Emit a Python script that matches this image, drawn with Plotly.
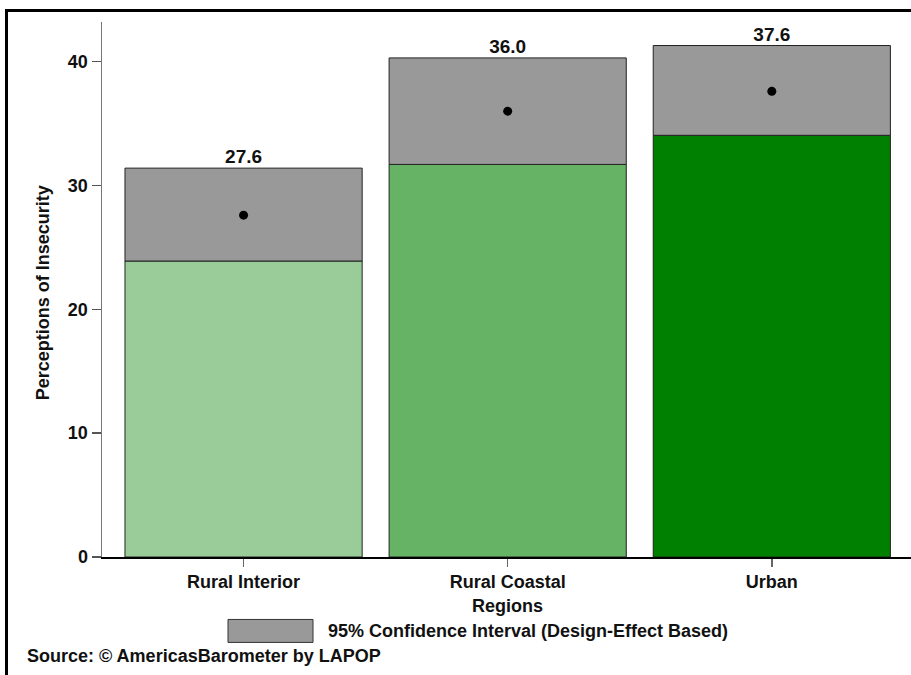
import plotly.graph_objects as go

categories = ["Rural Interior", "Rural Coastal", "Urban"]
means = [27.6, 36.0, 37.6]
ci_lower = [23.9, 31.7, 34.05]
ci_upper = [31.4, 40.3, 41.3]
bar_colors = ["#99CC99", "#66B366", "#008000"]
mean_labels = [f"{m:.1f}" for m in means]
y_ticks = [0, 10, 20, 30, 40]

FONT = "Liberation Sans, Arial, sans-serif"
W, H = 911, 675
L, R, T, B = 102, 0, 22, 117.5
pw = W - L - R
ph = H - T - B

def px(x):
    return (x - L) / pw

def py(y):
    return (H - B - y) / ph

xpos = list(range(len(categories)))

fig = go.Figure()
fig.add_trace(go.Bar(
    x=xpos, y=ci_lower, base=0, width=0.898,
    marker=dict(color=bar_colors, line=dict(color="#222222", width=1)),
    showlegend=False, hoverinfo="skip"))
fig.add_trace(go.Bar(
    x=xpos, y=[u - l for u, l in zip(ci_upper, ci_lower)], base=ci_lower, width=0.898,
    marker=dict(color="#999999", line=dict(color="#222222", width=1)),
    showlegend=False, hoverinfo="skip"))
fig.add_trace(go.Scatter(
    x=xpos, y=means, mode="markers",
    marker=dict(color="black", size=9), showlegend=False, hoverinfo="skip"))
fig.add_trace(go.Scatter(
    x=xpos, y=ci_upper, mode="text", text=mean_labels, textposition="top center",
    textfont=dict(family=FONT, size=19, color="#111111", weight="bold"),
    showlegend=False, hoverinfo="skip"))

fig.update_layout(
    width=W, height=H,
    margin=dict(l=L, r=R, t=T, b=B),
    paper_bgcolor="white", plot_bgcolor="white",
    barmode="overlay",
    font=dict(family=FONT, size=18, color="#111111"),
    xaxis=dict(
        range=[-0.536, 2.527], tickvals=xpos, ticktext=categories,
        showline=True, linecolor="black", linewidth=1.5,
        ticks="outside", ticklen=8, tickcolor="#666666", tickwidth=1.5,
        tickfont=dict(family=FONT, size=18, color="#111111", weight="bold"),
        showgrid=False, zeroline=False, fixedrange=True),
    yaxis=dict(
        range=[0, 43.2], tickvals=y_ticks,
        showline=True, linecolor="#777777", linewidth=1.5,
        ticks="outside", ticklen=9, tickcolor="#555555", tickwidth=1.5,
        tickfont=dict(family=FONT, size=18, color="#111111", weight="bold"),
        showgrid=False, zeroline=False, fixedrange=True),
    shapes=[
        dict(type="line", xref="paper", yref="paper", x0=px(6.5), x1=px(6.5),
             y0=py(10.5), y1=py(690), line=dict(color="black", width=3)),
        dict(type="line", xref="paper", yref="paper", x0=px(5), x1=px(930),
             y0=py(10.5), y1=py(10.5), line=dict(color="black", width=3)),
        dict(type="rect", xref="paper", yref="paper", x0=px(228), x1=px(313),
             y0=py(643), y1=py(620), fillcolor="#999999",
             line=dict(color="#333333", width=1)),
    ],
    annotations=[
        dict(text="<b>Perceptions of Insecurity</b>", xref="paper", yref="paper",
             x=px(43), y=py(293.5), textangle=-90, showarrow=False,
             xanchor="center", yanchor="middle", font=dict(size=18)),
        dict(text="<b>Regions</b>", xref="paper", yref="paper",
             x=px(508), y=py(607), showarrow=False,
             xanchor="center", yanchor="middle", font=dict(size=18)),
        dict(text="<b>95% Confidence Interval (Design-Effect Based)</b>", xref="paper", yref="paper",
             x=px(326), y=py(632), showarrow=False,
             xanchor="left", yanchor="middle", font=dict(size=18)),
        dict(text="<b>Source: © AmericasBarometer by LAPOP</b>", xref="paper", yref="paper",
             x=px(25), y=py(657), showarrow=False,
             xanchor="left", yanchor="middle", font=dict(size=18)),
    ],
)

fig.write_html(
    "out.html",
    config={"displayModeBar": False, "staticPlot": True},
    post_script="document.body.style.margin='0';document.body.style.padding='0';"
                "document.body.style.overflow='hidden';",
)
